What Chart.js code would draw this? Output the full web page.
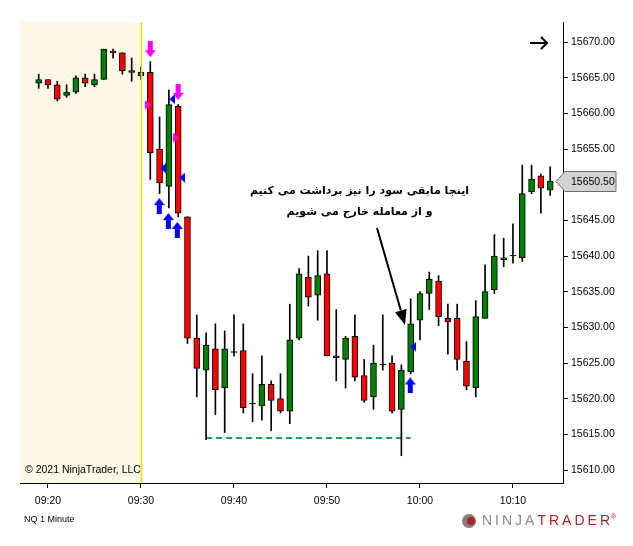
<!DOCTYPE html>
<html>
<head>
<meta charset="utf-8">
<script src="https://cdn.jsdelivr.net/npm/chart.js@4.4.1/dist/chart.umd.min.js"></script>
<style>
html, body { margin: 0; padding: 0; background: #fff; }
canvas { display: block; }
</style>
</head>
<body>
<canvas id="grafico" width="633" height="546"></canvas>
<script>
// NQ 1 minute, 09:19 - 10:14
const horas = ['09:19','09:20','09:21','09:22','09:23','09:24','09:25','09:26','09:27','09:28',
  '09:29','09:30','09:31','09:32','09:33','09:34','09:35','09:36','09:37','09:38',
  '09:39','09:40','09:41','09:42','09:43','09:44','09:45','09:46','09:47','09:48',
  '09:49','09:50','09:51','09:52','09:53','09:54','09:55','09:56','09:57','09:58',
  '09:59','10:00','10:01','10:02','10:03','10:04','10:05','10:06','10:07','10:08',
  '10:09','10:10','10:11','10:12','10:13','10:14']
const aperturas = [15664.25,15664.75,15664.0,15662.5,15663.0,15665.0,15664.0,15664.75,15668.75,15668.5,
  15666.0,15665.25,15665.75,15655.0,15649.75,15661.0,15645.5,15628.5,15624.0,15627.0,
  15621.5,15626.5,15626.75,15619.25,15619.0,15622.0,15620.0,15618.25,15628.5,15637.0,
  15634.5,15637.5,15626.0,15625.5,15628.75,15623.25,15620.25,15624.75,15625.0,15618.5,
  15623.75,15631.0,15634.75,15636.5,15631.25,15631.25,15625.25,15621.5,15631.25,15635.25,
  15639.5,15640.0,15639.75,15649.0,15651.25,15649.25]
const maximos = [15665.5,15664.75,15664.5,15664.0,15665.25,15665.5,15665.5,15669.0,15669.0,15668.5,
  15667.75,15666.5,15667.25,15659.5,15663.25,15661.25,15645.5,15631.75,15629.25,15630.5,
  15629.5,15631.75,15630.5,15623.5,15626.0,15622.5,15623.5,15633.25,15638.25,15640.0,
  15640.75,15640.75,15632.5,15628.75,15631.75,15625.5,15627.5,15631.75,15626.0,15624.75,
  15634.0,15635.0,15637.75,15637.25,15633.25,15633.25,15628.0,15633.75,15638.75,15643.0,
  15642.5,15644.5,15652.75,15652.75,15651.5,15652.5]
const minimos = [15663.5,15663.5,15661.75,15662.25,15662.75,15663.75,15663.75,15664.75,15667.75,15665.5,
  15664.5,15664.75,15650.75,15648.75,15646.75,15645.5,15627.75,15620.25,15614.25,15617.75,
  15615.25,15626.0,15618.0,15616.75,15617.0,15615.5,15618.0,15616.5,15628.25,15633.0,
  15631.0,15626.0,15622.5,15621.5,15622.5,15619.5,15618.5,15624.0,15618.0,15612.0,
  15623.5,15628.25,15632.5,15630.25,15626.25,15624.0,15621.25,15620.25,15631.25,15634.75,
  15638.5,15639.0,15639.25,15648.75,15646.0,15648.5]
const cierres = [15664.75,15664.0,15662.0,15663.0,15665.0,15664.25,15664.75,15669.0,15668.5,15666.0,
  15665.75,15665.75,15654.5,15650.25,15661.25,15646.0,15628.5,15624.25,15627.5,15621.25,
  15627.0,15626.5,15618.75,15619.25,15622.0,15619.75,15618.25,15628.25,15637.5,15634.25,
  15637.25,15626.0,15625.75,15628.5,15623.0,15619.75,15625.0,15624.75,15618.25,15624.0,
  15630.5,15634.75,15636.75,15631.5,15630.75,15625.5,15621.75,15631.5,15635.0,15640.0,
  15639.75,15640.0,15648.75,15650.75,15649.5,15650.5]

const etiquetasX = ['09:20','09:30','09:40','09:50','10:00','10:10']
const ticksY = [15610,15615,15620,15625,15630,15635,15640,15645,15650,15655,15660,15665,15670]

// señales de la estrategia [hora en minutos, precio]
const flechasVenta = [[31, 15669.0], [34, 15663.0]]
const flechasCompra = [[31.97, 15647.0], [32.94, 15644.9], [33.9, 15643.65], [58.96, 15621.85]]
const triangulosVenta = [[30.72, 15661.2], [33.75, 15656.6]]
const triangulosCompra = [[33.35, 15662.0], [32.37, 15652.3], [34.4, 15651.0], [59.28, 15627.3]]
const lineaSoporte = [['09:37', 15614.5], ['09:59', 15614.5]]

const textoNota = ['اینجا مابقی سود را نیز برداشت می کنیم', 'و از معامله خارج می شویم']
const notaPos = [53.5, 15649.1, 15646.2]
const flechaNota = [[55.38, 15643.93], [58.39, 15630.33]]

const aMinutos = (t) => {
  const [h, m] = t.split(':').map(Number)
  return (h - 9) * 60 + m
}

const colorVela = (i) => {
  if (cierres[i] > aperturas[i]) return '#008000'
  if (cierres[i] < aperturas[i]) return '#ff0000'
  return '#000000'
}

const cuerpos = horas.map((t, i) => {
  let a = Math.min(aperturas[i], cierres[i])
  let b = Math.max(aperturas[i], cierres[i])
  if (b - a < 0.1) b = a + 0.1
  return { x: aMinutos(t), y: [a, b] }
})
const mechas = horas.map((t, i) => ({ x: aMinutos(t), y: [minimos[i], maximos[i]] }))

const crearIcono = (tipo, color) => {
  const c = document.createElement('canvas')
  if (tipo === 'abajo' || tipo === 'arriba') {
    c.width = 11; c.height = 16
  } else {
    c.width = 6; c.height = 10
  }
  const ctx = c.getContext('2d')
  ctx.fillStyle = color
  ctx.beginPath()
  if (tipo === 'abajo') {
    ctx.rect(3, 0, 5, 9)
    ctx.moveTo(0, 9); ctx.lineTo(11, 9); ctx.lineTo(5.5, 16)
  } else if (tipo === 'arriba') {
    ctx.rect(3, 7, 5, 9)
    ctx.moveTo(0, 7); ctx.lineTo(11, 7); ctx.lineTo(5.5, 0)
  } else if (tipo === 'derecha') {
    ctx.moveTo(0, 0); ctx.lineTo(6, 5); ctx.lineTo(0, 10)
  } else {
    ctx.moveTo(6, 0); ctx.lineTo(0, 5); ctx.lineTo(6, 10)
  }
  ctx.fill()
  return c
}

const marca = (arr, icono) => ({
  type: 'scatter',
  data: arr.map(([x, y]) => ({ x, y })),
  pointStyle: icono,
  pointRadius: 6,
  order: -1
})

const fondoYTextos = {
  id: 'fondoYTextos',
  beforeDatasetsDraw(chart) {
    const { ctx, chartArea, scales } = chart
    const x30 = scales.x.getPixelForValue(30)
    ctx.save()
    ctx.fillStyle = '#fdf8e6'
    ctx.fillRect(chartArea.left, chartArea.top, x30 - chartArea.left, chartArea.bottom - chartArea.top)
    ctx.fillStyle = '#000'
    ctx.font = '10.5px "Liberation Sans", Arial, sans-serif'
    ctx.textBaseline = 'middle'
    ctx.fillText('© 2021 NinjaTrader, LLC', chartArea.left + 5, 470)
    ctx.restore()
  },
  afterDatasetsDraw(chart) {
    const { ctx, chartArea, scales } = chart
    const x30 = Math.round(scales.x.getPixelForValue(30)) + 0.5
    ctx.save()
    ctx.strokeStyle = '#ffd700'
    ctx.lineWidth = 1.5
    ctx.beginPath()
    ctx.moveTo(x30, chartArea.top)
    ctx.lineTo(x30, chartArea.bottom)
    ctx.stroke()

    // nota en persa
    ctx.fillStyle = '#000'
    ctx.font = 'bold 11px "DejaVu Sans", sans-serif'
    ctx.textAlign = 'center'
    ctx.textBaseline = 'middle'
    ctx.direction = 'rtl'
    const nx = scales.x.getPixelForValue(notaPos[0])
    ctx.fillText(textoNota[0], nx, scales.y.getPixelForValue(notaPos[1]))
    ctx.fillText(textoNota[1], nx, scales.y.getPixelForValue(notaPos[2]))
    ctx.direction = 'ltr'

    // flecha de la nota
    const x1 = scales.x.getPixelForValue(flechaNota[0][0])
    const y1 = scales.y.getPixelForValue(flechaNota[0][1])
    const x2 = scales.x.getPixelForValue(flechaNota[1][0])
    const y2 = scales.y.getPixelForValue(flechaNota[1][1])
    const ang = Math.atan2(y2 - y1, x2 - x1)
    const largo = 15
    const bx = x2 - largo * Math.cos(ang)
    const by = y2 - largo * Math.sin(ang)
    ctx.strokeStyle = '#000'
    ctx.lineWidth = 2
    ctx.beginPath()
    ctx.moveTo(x1, y1)
    ctx.lineTo(bx, by)
    ctx.stroke()
    ctx.beginPath()
    ctx.moveTo(x2, y2)
    ctx.lineTo(bx + 6 * Math.sin(ang), by - 6 * Math.cos(ang))
    ctx.lineTo(bx - 6 * Math.sin(ang), by + 6 * Math.cos(ang))
    ctx.closePath()
    ctx.fill()

    // flecha arriba a la derecha
    const ax = chartArea.right - 33
    const ay = 43
    ctx.lineWidth = 2
    ctx.beginPath()
    ctx.moveTo(ax, ay); ctx.lineTo(ax + 17, ay)
    ctx.moveTo(ax + 11, ay - 6); ctx.lineTo(ax + 17, ay); ctx.lineTo(ax + 11, ay + 6)
    ctx.stroke()
    ctx.restore()
  },
  afterDraw(chart) {
    const { ctx, chartArea, scales } = chart
    ctx.save()
    // etiqueta del ultimo precio
    const ultimo = cierres[cierres.length - 1]
    const py = Math.round(scales.y.getPixelForValue(ultimo)) + 0.5
    const x0 = chartArea.right - 7
    ctx.beginPath()
    ctx.moveTo(x0, py)
    ctx.lineTo(x0 + 9, py - 10)
    ctx.lineTo(x0 + 60, py - 10)
    ctx.lineTo(x0 + 60, py + 10)
    ctx.lineTo(x0 + 9, py + 10)
    ctx.closePath()
    ctx.fillStyle = '#d3d3d3'
    ctx.fill()
    ctx.strokeStyle = '#6e6e6e'
    ctx.lineWidth = 1
    ctx.stroke()
    ctx.fillStyle = '#000'
    ctx.font = '10.5px "Liberation Sans", Arial, sans-serif'
    ctx.textBaseline = 'middle'
    ctx.fillText(ultimo.toFixed(2), chartArea.right + 8, py + 1)

    // pie
    ctx.font = '9px "Liberation Sans", Arial, sans-serif'
    ctx.fillText('NQ 1 Minute', 24, 520)

    // logo
    ctx.fillStyle = '#8a7f78'
    ctx.beginPath()
    ctx.arc(469, 521, 7, 0, Math.PI * 2)
    ctx.fill()
    ctx.fillStyle = '#b0202a'
    ctx.beginPath()
    ctx.arc(471, 521, 4, 0, Math.PI * 2)
    ctx.fill()
    ctx.font = '14px "Liberation Sans", Arial, sans-serif'
    ctx.letterSpacing = '3px'
    ctx.fillStyle = '#8a8a8a'
    ctx.fillText('NINJA', 482, 521)
    const w = ctx.measureText('NINJA').width
    ctx.fillStyle = '#b0202a'
    ctx.fillText('TRADER', 482 + w, 521)
    const w2 = ctx.measureText('TRADER').width
    ctx.letterSpacing = '0px'
    ctx.font = '7px "Liberation Sans", Arial, sans-serif'
    ctx.fillText('®', 482 + w + w2 - 2, 517)
    ctx.restore()
  }
}

new Chart(document.querySelector('#grafico'), {
  type: 'bar',
  data: {
    datasets: [
      {
        data: cuerpos,
        backgroundColor: horas.map((t, i) => colorVela(i)),
        borderColor: '#000',
        borderWidth: 1,
        borderSkipped: false,
        barThickness: 6,
        grouped: false,
        order: 0
      },
      {
        data: mechas,
        backgroundColor: '#000',
        barThickness: 1,
        grouped: false,
        order: 1
      },
      {
        type: 'line',
        data: lineaSoporte.map(([t, p]) => ({ x: aMinutos(t), y: p })),
        borderColor: '#1aa34a',
        borderWidth: 2,
        borderDash: [6, 4],
        pointRadius: 0,
        order: 2
      },
      marca(flechasVenta, crearIcono('abajo', '#ff00ff')),
      marca(flechasCompra, crearIcono('arriba', '#0000ff')),
      marca(triangulosVenta, crearIcono('derecha', '#ff00ff')),
      marca(triangulosCompra, crearIcono('izquierda', '#0000ff'))
    ]
  },
  options: {
    responsive: false,
    animation: false,
    devicePixelRatio: 1,
    layout: { padding: { left: 20, top: 22, right: 0, bottom: 0 } },
    plugins: { legend: { display: false }, tooltip: { enabled: false } },
    scales: {
      x: {
        type: 'linear',
        min: 16.99,
        max: 75.38,
        offset: false,
        grid: { offset: false, drawOnChartArea: false, drawTicks: true, tickLength: 5, color: '#000' },
        border: { display: true, color: '#000', width: 1 },
        afterBuildTicks: (s) => { s.ticks = etiquetasX.map(t => ({ value: aMinutos(t) })) },
        afterFit: (s) => { s.height = 63 },
        ticks: {
          autoSkip: false,
          maxRotation: 0,
          padding: 7,
          color: '#000',
          font: { family: '"Liberation Sans", Arial, sans-serif', size: 10.5 },
          callback: (v) => etiquetasX.find(t => aMinutos(t) === v) || ''
        }
      },
      y: {
        position: 'right',
        min: 15608.18,
        max: 15672.81,
        grid: { drawOnChartArea: false, drawTicks: true, tickLength: 5, color: '#000' },
        border: { display: true, color: '#000', width: 1 },
        afterBuildTicks: (s) => { s.ticks = ticksY.map(v => ({ value: v })) },
        afterFit: (s) => { s.width = 70 },
        ticks: {
          padding: 3,
          color: '#000',
          font: { family: '"Liberation Sans", Arial, sans-serif', size: 10.5 },
          callback: (v) => Number(v).toFixed(2)
        }
      }
    }
  },
  plugins: [fondoYTextos]
})
</script>
</body>
</html>
